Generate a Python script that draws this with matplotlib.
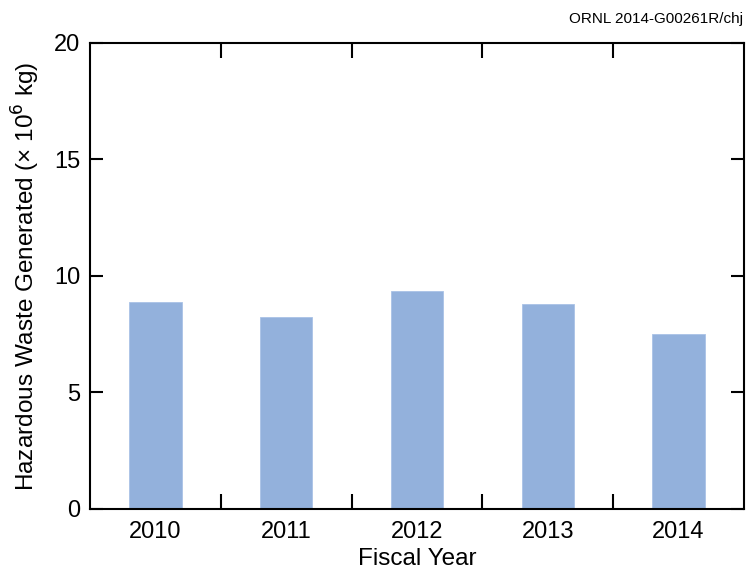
import matplotlib
matplotlib.use("Agg")
import matplotlib.pyplot as plt
from matplotlib.ticker import MultipleLocator

years = ["2010", "2011", "2012", "2013", "2014"]
waste = [8.9, 8.22, 9.36, 8.78, 7.5]

plt.rcParams["font.family"] = ["Liberation Sans", "DejaVu Sans"]

fig = plt.figure(figsize=(7.47, 5.73), dpi=100)
ax = fig.add_axes([0.1205, 0.1117, 0.8755, 0.8133])

x = range(len(years))
ax.bar(x, waste, width=0.4, color="#93b1dc", edgecolor="#a9c2e6", linewidth=0.6)

ax.set_xlim(-0.5, len(years) - 0.5)
ax.set_ylim(0, 20)
ax.set_xticks(list(x))
ax.set_xticklabels(years)
ax.yaxis.set_major_locator(MultipleLocator(5))
ax.set_xticks([i + 0.5 for i in range(len(years) - 1)], minor=True)

ax.tick_params(axis="x", which="major", length=0, labelsize=17, pad=9)
ax.tick_params(axis="x", which="minor", direction="in", length=10.5, width=1.5,
               top=True, bottom=True)
ax.tick_params(axis="y", which="major", direction="in", length=9.5, width=1.5,
               left=True, right=True, labelsize=17, pad=7)

for s in ax.spines.values():
    s.set_linewidth(1.5)

ax.set_xlabel("Fiscal Year", fontsize=17.5, labelpad=3)
ax.set_ylabel("Hazardous Waste Generated (\u00d7 10$^6$ kg)", fontsize=17.5, labelpad=9)

fig.text(0.995, 0.966, "ORNL 2014-G00261R/chj", ha="right", va="center", fontsize=11)

fig.savefig("out.png", dpi=100)
